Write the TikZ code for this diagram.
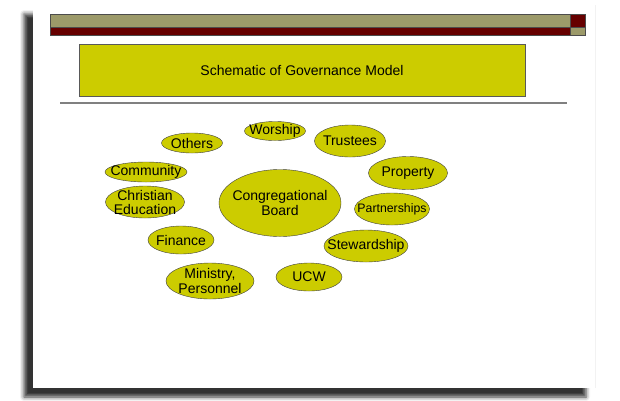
\documentclass[tikz,border=0pt]{standalone}
\usepackage{fontspec}
\setmainfont{Liberation Sans}
\usetikzlibrary{shapes.geometric,shadows.blur}
\definecolor{olivebar}{HTML}{9C9A6A}
\definecolor{darkred}{HTML}{660000}
\definecolor{mustard}{HTML}{CCCC00}

\begin{document}
\begin{tikzpicture}[x=1pt,y=-1pt,font=\fontsize{14}{15}\selectfont,
 comm/.style={ellipse,draw=black!75,fill=mustard,inner xsep=-12pt,inner ysep=-6pt,align=center},
 bar/.style={draw=black!70,line width=0.6pt}]
\useasboundingbox (0,0) rectangle (620,400);
% slide and its shadow
\fill[white,blur shadow={shadow xshift=-9pt,shadow yshift=-9pt,shadow blur radius=4pt,shadow opacity=80}]
 (33,5) rectangle (595,388);
\draw[black!5] (595,5) -- (595,388);
% top bars
\fill[olivebar,bar] (50,14) rectangle (570,27);
\fill[darkred,bar] (50,27) rectangle (570,35);
\fill[darkred,bar] (570,14) rectangle (585,27);
\fill[olivebar,bar] (570,27) rectangle (585,35);
% title
\node[draw=black!65,fill=mustard,minimum width=446pt,minimum height=52pt] (title) at (302,70) {Schematic of Governance Model};
\coordinate (rl) at (60,103);
\coordinate (rr) at (567,103);
\draw[black!50,line width=1.6pt] (rl) -- (rr);
% committees
\node[comm,minimum width=122pt,minimum height=67pt] (board) at (280,203) {Congregational\\Board};
\node[comm,minimum width=61pt,minimum height=20pt] (others) at (192,143) {Others};
\node[comm,minimum width=61pt,minimum height=19pt] (worship) at (275,131) {Worship};
\node[comm,minimum width=71pt,minimum height=32pt] (trustees) at (350,141) {Trustees};
\node[comm,minimum width=79pt,minimum height=33pt] (property) at (408,173) {Property};
\node[comm,minimum width=75pt,minimum height=32pt,font=\fontsize{12.3}{14}\selectfont] (partners) at (392,209) {Partnerships};
\node[comm,minimum width=84pt,minimum height=32pt] (steward) at (366,246) {Stewardship};
\node[comm,minimum width=66pt,minimum height=28pt] (ucw) at (309,277) {UCW};
\node[comm,minimum width=88pt,minimum height=36pt] (ministry) at (210,281) {Ministry,\\Personnel};
\node[comm,minimum width=66pt,minimum height=28pt] (finance) at (181,240) {Finance};
\node[comm,minimum width=82pt,minimum height=20pt] (community) at (146,172) {Community};
\node[comm,minimum width=79pt,minimum height=32pt,font=\fontsize{14}{14}\selectfont] (christed) at (145,202) {Christian\\Education};
\end{tikzpicture}
\end{document}
